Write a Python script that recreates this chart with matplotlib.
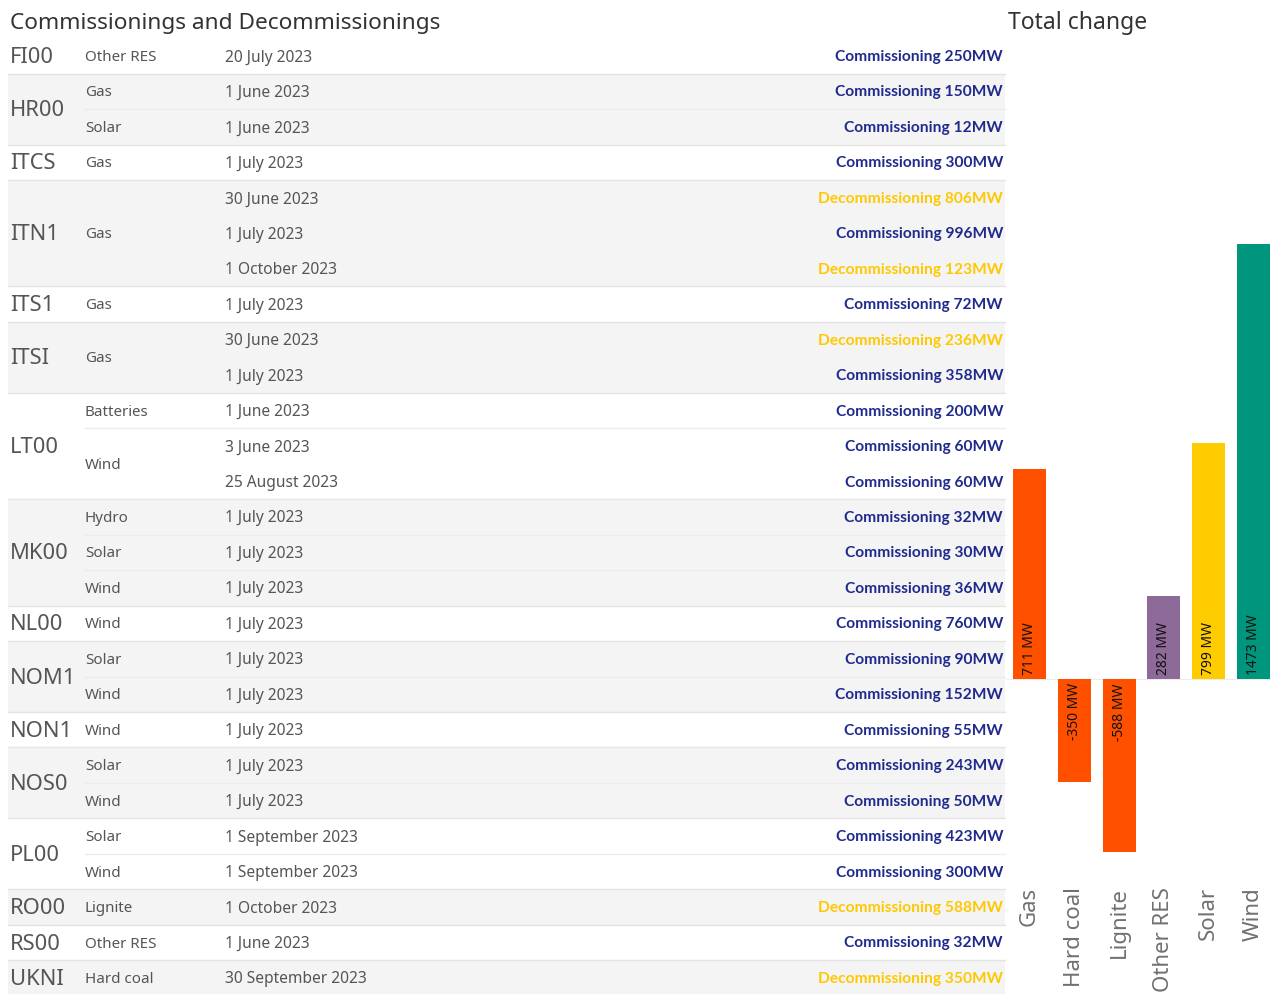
import matplotlib
matplotlib.use("Agg")
import matplotlib.pyplot as plt
from matplotlib.patches import Rectangle

# ---------------- data ----------------
codes = ["FI00", "HR00", "HR00", "ITCS", "ITN1", "ITN1", "ITN1", "ITS1", "ITSI", "ITSI",
         "LT00", "LT00", "LT00", "MK00", "MK00", "MK00", "NL00", "NOM1", "NOM1", "NON1",
         "NOS0", "NOS0", "PL00", "PL00", "RO00", "RS00", "UKNI"]
fuels = ["Other RES", "Gas", "Solar", "Gas", "Gas", "Gas", "Gas", "Gas", "Gas", "Gas",
         "Batteries", "Wind", "Wind", "Hydro", "Solar", "Wind", "Wind", "Solar", "Wind", "Wind",
         "Solar", "Wind", "Solar", "Wind", "Lignite", "Other RES", "Hard coal"]
dates = ["20 July 2023", "1 June 2023", "1 June 2023", "1 July 2023", "30 June 2023",
         "1 July 2023", "1 October 2023", "1 July 2023", "30 June 2023", "1 July 2023",
         "1 June 2023", "3 June 2023", "25 August 2023", "1 July 2023", "1 July 2023",
         "1 July 2023", "1 July 2023", "1 July 2023", "1 July 2023", "1 July 2023",
         "1 July 2023", "1 July 2023", "1 September 2023", "1 September 2023",
         "1 October 2023", "1 June 2023", "30 September 2023"]
actions = ["Commissioning", "Commissioning", "Commissioning", "Commissioning", "Decommissioning",
           "Commissioning", "Decommissioning", "Commissioning", "Decommissioning", "Commissioning",
           "Commissioning", "Commissioning", "Commissioning", "Commissioning", "Commissioning",
           "Commissioning", "Commissioning", "Commissioning", "Commissioning", "Commissioning",
           "Commissioning", "Commissioning", "Commissioning", "Commissioning",
           "Decommissioning", "Commissioning", "Decommissioning"]
capacities_mw = [250, 150, 12, 300, 806, 996, 123, 72, 236, 358,
                 200, 60, 60, 32, 30, 36, 760, 90, 152, 55,
                 243, 50, 423, 300, 588, 32, 350]

bar_categories = ["Gas", "Hard coal", "Lignite", "Other RES", "Solar", "Wind"]
bar_totals = [711, -350, -588, 282, 799, 1473]
bar_colors = ["#ff5000", "#ff5000", "#ff5000", "#8e6a99", "#ffcc00", "#00967d"]

# ---------------- styles ----------------
plt.rcParams["font.family"] = ["Noto Sans", "DejaVu Sans"]
COMM_COLOR = "#1f2a8c"
DECOMM_COLOR = "#ffc800"
BAND = "#f4f4f4"
LINE = "#e4e4e4"
SUBLINE = "#ececec"
TXT = "#555555"
DY = 1.5  # small downward nudge for text centring

fig = plt.figure(figsize=(12.71, 9.94), dpi=100)
ax = fig.add_axes([0, 0, 1, 1])
ax.set_xlim(0, 1271)
ax.set_ylim(994, 0)
ax.axis("off")

x_left, x_right = 8, 1005
y0, h = 56, 35.46
n = len(codes)

# group rows by code
groups = []
start = 0
for i in range(1, n + 1):
    if i == n or codes[i] != codes[start]:
        groups.append((start, i))
        start = i

for gi, (s, e) in enumerate(groups):
    top = y0 - h / 2 + s * h
    bot = y0 - h / 2 + e * h
    if gi % 2 == 1:
        ax.add_patch(Rectangle((x_left, top), x_right - x_left, bot - top,
                               facecolor=BAND, edgecolor="none", zorder=0))
    if gi > 0:
        ax.plot([x_left, x_right], [top, top], color=LINE, lw=1, zorder=1)
    ax.text(10, (top + bot) / 2 + DY, codes[s], fontsize=15.8, color=TXT,
            ha="left", va="center")
    # fuel sub-groups
    fs = s
    for j in range(s + 1, e + 1):
        if j == e or fuels[j] != fuels[fs]:
            ftop = y0 - h / 2 + fs * h
            fbot = y0 - h / 2 + j * h
            ax.text(85, (ftop + fbot) / 2 + DY, fuels[fs], fontsize=10.9, color=TXT,
                    ha="left", va="center")
            if fs > s:
                ax.plot([85, x_right], [ftop, ftop], color=SUBLINE, lw=1, zorder=1)
            fs = j

for i in range(n):
    yc = y0 + i * h
    ax.text(225, yc + DY, dates[i], fontsize=11.2, color=TXT, ha="left", va="center")
    col = COMM_COLOR if actions[i] == "Commissioning" else DECOMM_COLOR
    ax.text(1003, yc + 1, f"{actions[i]} {capacities_mw[i]}MW", fontsize=11.2,
            family=["Lato", "DejaVu Sans"], fontweight="bold", color=col,
            ha="right", va="center")

ax.text(10, 23, "Commissionings and Decommissionings", fontsize=16.3, color="#333333",
        ha="left", va="center")
ax.text(1008, 23, "Total change", fontsize=16.5, color="#333333", ha="left", va="center")

# ---------------- bar chart ----------------
W, H = 1271, 994
bx0, bx1 = 1007, 1271
by_top, by_bot = 40, 880
zero_px = 679
scale = 0.295  # px per MW
bax = fig.add_axes([bx0 / W, (H - by_bot) / H, (bx1 - bx0) / W, (by_bot - by_top) / H])
bax.set_ylim(-(by_bot - zero_px) / scale, (zero_px - by_top) / scale)
bax.set_xlim(-0.502, 5.39)
xs = list(range(len(bar_categories)))
bax.bar(xs, bar_totals, width=0.737, color=bar_colors, zorder=2)
bax.axhline(0, color="#ececec", lw=0.8, zorder=1)
for x, v in zip(xs, bar_totals):
    if v >= 0:
        bax.annotate(f"{v} MW", (x, 0), xytext=(0, 3), textcoords="offset points",
                     rotation=90, ha="center", va="bottom", fontsize=10, color="#111111")
    else:
        bax.annotate(f"{v} MW", (x, 0), xytext=(0, -3), textcoords="offset points",
                     rotation=90, ha="center", va="top", fontsize=10, color="#111111")
bax.set_xticks(xs)
bax.set_xticklabels(bar_categories, rotation=90, fontsize=16, color="#707070", va="top")
bax.tick_params(axis="x", length=0, pad=5)
bax.set_yticks([])
for sp in bax.spines.values():
    sp.set_visible(False)
bax.patch.set_alpha(0)

fig.savefig("out.png", dpi=100)
